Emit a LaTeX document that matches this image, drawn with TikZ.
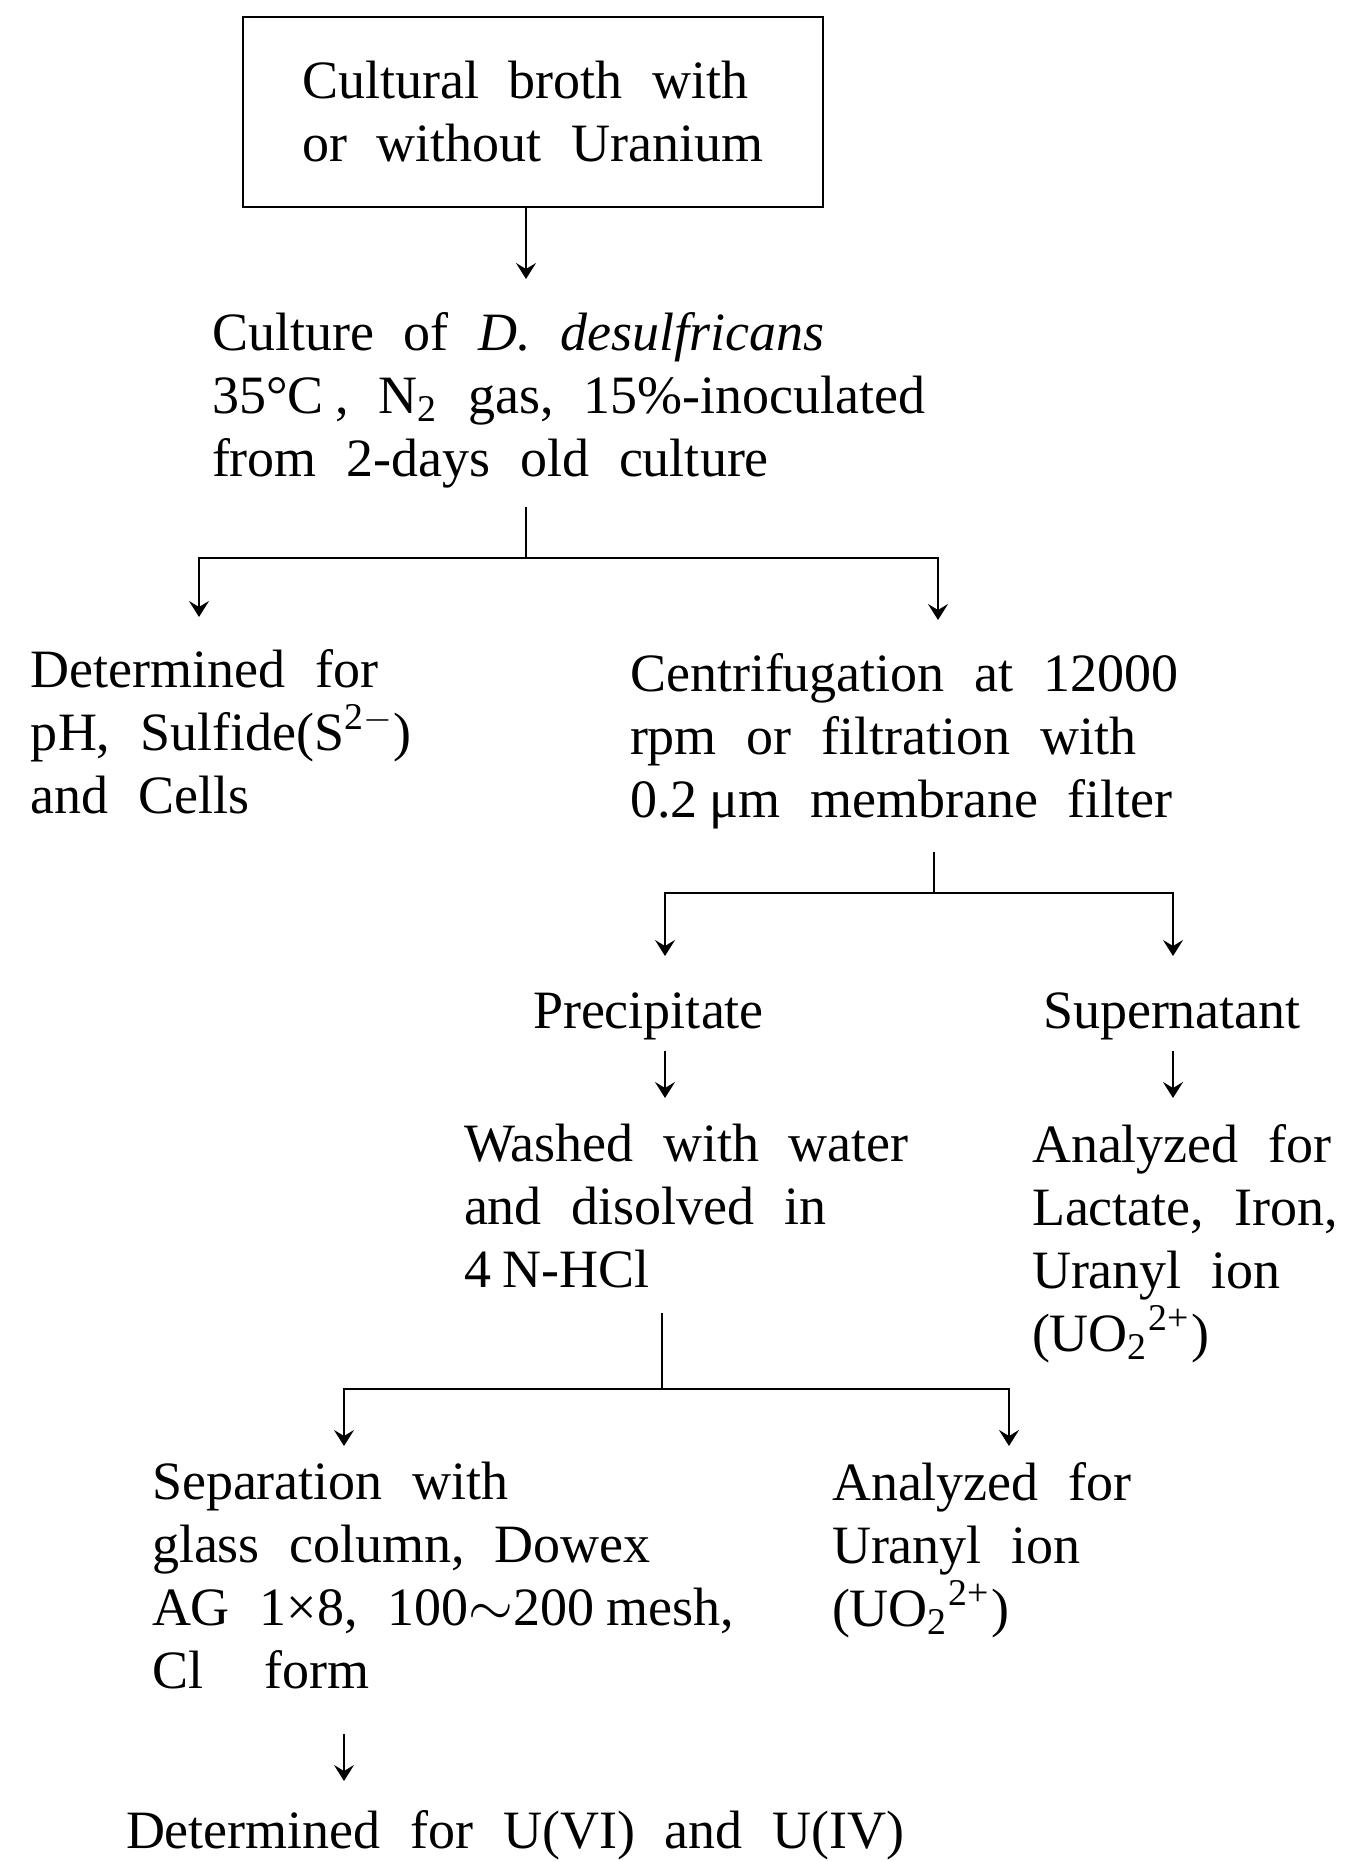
\documentclass[tikz,border=0pt]{standalone}
\usepackage{fontspec}
\setmainfont{Liberation Serif}[WordSpace=2.2]
\usetikzlibrary{arrows.meta}

\begin{document}
\begin{tikzpicture}[x=0.25pt,y=-0.25pt,line width=0.5pt,
    >={Stealth[length=4pt,width=5pt,inset=1.5pt]},
    every node/.style={font=\fontsize{13.5}{15.75}\selectfont},
    txt/.style={anchor=north west,align=left,inner sep=0pt},
    box/.style={draw,align=left,minimum width=145pt,minimum height=47.5pt}]
  \useasboundingbox (0,0) rectangle (1369,1861);
  % steps
  \node[box] (broth) at (533,112) {Cultural broth with\\or without Uranium};
  \node[txt] (culture) at (211,311)
    {Culture of \textit{D. desulfricans}\\35°C\hspace{3pt}, N\textsubscript{2} gas, 15\%-inoculated\\from 2-days old culture};
  \node[txt] (determ) at (30,648) {Determined for\\pH, Sulfide(S\textsuperscript{2$-$})\\and Cells};
  \node[txt] (centri) at (629,652) {Centrifugation at 12000\\rpm or filtration with\\0.2\hspace{3pt}μm membrane filter};
  \node[txt] (precip) at (532,992) {Precipitate};
  \node[txt] (super) at (1042,992) {Supernatant};
  \node[txt] (washed) at (463,1123) {Washed with water\\and disolved in\\4\hspace{3pt}N-HCl};
  \node[txt] (lactate) at (1031,1123) {Analyzed for\\Lactate, Iron,\\Uranyl ion\\(UO\textsubscript{2}\textsuperscript{2+})};
  \node[txt] (separ) at (151,1461)
    {Separation with\\glass column, Dowex\\AG 1×8, 100$\sim$200\hspace{3pt}mesh,\\Cl\hspace{8pt} form};
  \node[txt] (uranyl) at (831,1461) {Analyzed for\\Uranyl ion\\(UO\textsubscript{2}\textsuperscript{2+})};
  \node[txt] (final) at (125,1809) {Determined for U(VI) and U(IV)};
  % split points
  \coordinate (s1) at (526,558);
  \coordinate (s1l) at (199,558);
  \coordinate (s1r) at (938,558);
  \coordinate (s2) at (934,893);
  \coordinate (s2l) at (665,893);
  \coordinate (s2r) at (1173,893);
  \coordinate (s3) at (662,1389);
  \coordinate (s3l) at (344,1389);
  \coordinate (s3r) at (1009,1389);
  % connectors
  \draw[->,shorten >=8pt] (broth.south -| s1) -- (culture.north -| s1);
  \draw[shorten <=4.5pt] (culture.south -| s1) -- (s1);
  \draw[<->,shorten <=7.75pt,shorten >=8pt] (determ.north -| s1l) -- (s1l) -- (s1r) -- (centri.north -| s1r);
  \draw[shorten <=5.5pt] (centri.south -| s2) -- (s2);
  \draw[<->,shorten <=9pt,shorten >=9pt] (precip.north -| s2l) -- (s2l) -- (s2r) -- (super.north -| s2r);
  \draw[->,shorten <=2.5pt,shorten >=6.25pt] (precip.south -| s2l) -- (washed.north -| s2l);
  \draw[->,shorten <=2.5pt,shorten >=6.25pt] (super.south -| s2r) -- (lactate.north -| s2r);
  \draw[shorten <=6pt] (washed.south -| s3) -- (s3);
  \draw[<->,shorten <=3.75pt,shorten >=3.75pt] (separ.north -| s3l) -- (s3l) -- (s3r) -- (uranyl.north -| s3r);
  \draw[->,shorten <=11pt,shorten >=7pt] (separ.south -| s3l) -- (final.north -| s3l);
\end{tikzpicture}
\end{document}
